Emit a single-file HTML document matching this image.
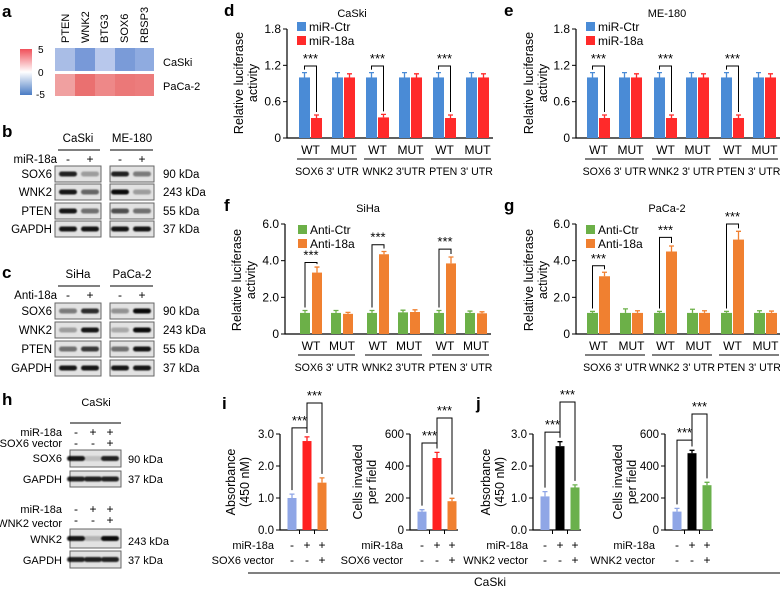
<!DOCTYPE html>
<html><head><meta charset="utf-8"><style>
html,body{margin:0;padding:0;background:#fff}
svg{display:block;font-family:"Liberation Sans",Arial,sans-serif}
</style></head><body>
<svg id="fig" width="780" height="589" viewBox="0 0 780 589" xmlns="http://www.w3.org/2000/svg">
<defs><filter id="blur" x="-20%" y="-50%" width="140%" height="200%"><feGaussianBlur stdDeviation="0.9"/></filter>
<linearGradient id="cbar" x1="0" y1="0" x2="0" y2="1"><stop offset="0" stop-color="#f0505a"/><stop offset="0.5" stop-color="#ffffff"/><stop offset="1" stop-color="#4a7cc4"/></linearGradient></defs>
<g font-size="11">
<text x="2" y="17" font-size="17" font-weight="bold">a</text>
<rect x="20" y="49" width="12" height="46" fill="url(#cbar)"/>
<text x="38" y="53" font-size="10">5</text>
<text x="38" y="76" font-size="10">0</text>
<text x="36" y="98" font-size="10">-5</text>
<g>
<rect x="55" y="48" width="20" height="23" fill="#a9bde6"/><rect x="75" y="48" width="20" height="23" fill="#7899d8"/><rect x="95" y="48" width="20" height="23" fill="#b8c8ec"/><rect x="115" y="48" width="20" height="23" fill="#7a9bd8"/><rect x="135" y="48" width="19" height="23" fill="#8fabe0"/>
<rect x="55" y="74" width="20" height="22" fill="#f0a0a0"/><rect x="75" y="74" width="20" height="22" fill="#ea7070"/><rect x="95" y="74" width="20" height="22" fill="#ee8888"/><rect x="115" y="74" width="20" height="22" fill="#eb7878"/><rect x="135" y="74" width="19" height="22" fill="#ec7c7c"/>
</g>
<text transform="translate(69,43) rotate(-90)">PTEN</text>
<text transform="translate(89,43) rotate(-90)">WNK2</text>
<text transform="translate(108,43) rotate(-90)">BTG3</text>
<text transform="translate(128,43) rotate(-90)">SOX6</text>
<text transform="translate(148,43) rotate(-90)">RBSP3</text>
<text x="163" y="66">CaSki</text>
<text x="163" y="90">PaCa-2</text>
</g>
<g id="blots" font-size="11"></g>
<g id="charts" font-size="11"></g>
</svg>
<script>
// ---------- luciferase data ----------
const lucGroups = ["SOX6 3' UTR", "WNK2 3'UTR", "PTEN 3' UTR"];
const lucGroupsE = ["SOX6 3' UTR", "WNK2 3' UTR", "PTEN 3' UTR"];
const lucSub = ["WT", "MUT"];
const dTicks = ["0", "0.6", "1.2", "1.8"];
const fTicks = ["0", "2.0", "4.0", "6.0"];
const dCtr = [1.0, 1.0, 1.0, 1.0, 1.0, 1.0];
const dCtrErr = [0.08, 0.08, 0.08, 0.08, 0.08, 0.08];
const dMir = [0.33, 1.0, 0.34, 1.0, 0.33, 1.0];
const dMirErr = [0.05, 0.06, 0.05, 0.06, 0.05, 0.06];
const dBracket = [1.19, 1.19, 1.19];
const eCtr = [1.0, 1.0, 1.0, 1.0, 1.0, 1.0];
const eCtrErr = [0.08, 0.08, 0.08, 0.08, 0.08, 0.08];
const eMir = [0.33, 1.0, 0.33, 1.0, 0.33, 1.0];
const eMirErr = [0.05, 0.06, 0.05, 0.06, 0.05, 0.06];
const eBracket = [1.19, 1.19, 1.19];
const fCtr = [1.15, 1.15, 1.15, 1.18, 1.15, 1.15];
const fCtrErr = [0.13, 0.13, 0.13, 0.12, 0.13, 0.1];
const fAnti = [3.35, 1.1, 4.35, 1.2, 3.85, 1.13];
const fAntiErr = [0.3, 0.08, 0.15, 0.12, 0.35, 0.08];
const fBracket = [3.9, 4.87, 4.63];
const gCtr = [1.15, 1.15, 1.15, 1.15, 1.15, 1.15];
const gCtrErr = [0.08, 0.22, 0.08, 0.2, 0.08, 0.12];
const gAnti = [3.15, 1.15, 4.5, 1.15, 5.15, 1.15];
const gAntiErr = [0.22, 0.12, 0.3, 0.12, 0.45, 0.1];
const gBracket = [3.72, 5.27, 6.0];
// ---------- rescue data ----------
const absTicks = ["0.0", "1.0", "2.0", "3.0"];
const cellTicks = ["0", "200", "400", "600"];
const row1Signs = ["-", "+", "+"];
const row2Signs = ["-", "-", "+"];
const i1Vals = [1.0, 2.78, 1.48];
const i1Err = [0.12, 0.13, 0.15];
const i1Br = [3.19, 3.97];
const i2Vals = [115, 450, 180];
const i2Err = [12, 35, 18];
const i2Br = [544, 700];
const j1Vals = [1.05, 2.62, 1.33];
const j1Err = [0.15, 0.14, 0.08];
const j1Br = [3.06, 4.0];
const j2Vals = [115, 480, 280];
const j2Err = [20, 18, 18];
const j2Br = [562, 725];
// ---------- blot band intensities ----------
const bBands = [[0.85,0.3,0.85,0.45],[0.9,0.55,0.95,0.3],[0.9,0.5,0.65,0.5],[0.9,0.9,0.9,0.9]];
const cBands = [[0.45,0.8,0.35,0.95],[0.3,0.9,0.25,0.95],[0.5,0.75,0.5,0.9],[0.9,0.9,0.9,0.9]];
const hBands = [[0.9,0.15,0.85],[0.85,0.85,0.85],[0.9,0.2,0.95],[0.85,0.85,0.85]];

const NS = "http://www.w3.org/2000/svg";
const charts = document.getElementById('charts');
const blots = document.getElementById('blots');
function mk(tag, attrs, parent) {
  const el = document.createElementNS(NS, tag);
  for (const k in attrs) el.setAttribute(k, attrs[k]);
  parent.appendChild(el);
  return el;
}
function tx(s, x, y, anchor, parent, size) {
  const t = mk('text', {x: x, y: y, 'text-anchor': anchor || 'start'}, parent);
  if (size) t.setAttribute('font-size', size);
  t.textContent = s;
  return t;
}

function lucChart(c) {
  const g = mk('g', {}, charts);
  
  
  const ys = v => c.y0 - v / c.ymax * (c.y0 - c.yTop);
  const bx = (i, s) => c.ax + c.off + Math.floor(i / 2) * c.gap + (i % 2) * c.mutOff + s * c.pairOff;
  const letter = tx(c.letter, c.lx, c.ly, 'start', g, 17);
  letter.setAttribute('font-weight', 'bold');
  
  
  const title = tx(c.title, c.titleX, c.yTop - 12, 'middle', g, 11);
  
  
  const lastX = bx(5, 1) + c.bw + 4;
  mk('path', {d: `M${c.ax},${c.yTop} V${c.y0} H${lastX}`, stroke: '#000', fill: 'none', 'stroke-width': 1.2}, g);
  c.ticks.forEach((t, k) => {
    const v = c.ymax * k / (c.ticks.length - 1);
    mk('line', {x1: c.ax - 4, x2: c.ax, y1: ys(v), y2: ys(v), stroke: '#000'}, g);
    const tl = tx(t, c.ax - 6, ys(v) + 4, 'end', g, 12);
    
    
  });
  const yl = mk('text', {transform: `translate(${c.ylX},${c.ylCY}) rotate(-90)`, 'text-anchor': 'middle', 'font-size': 12.5}, g);
  yl.textContent = 'Relative luciferase';
  
  
  const yl2 = mk('text', {transform: `translate(${c.ylX + 14},${c.ylCY}) rotate(-90)`, 'text-anchor': 'middle', 'font-size': 12.5}, g);
  yl2.textContent = 'activity';
  
  
  [c.s1, c.s2].forEach((ser, s) => {
    const errs = s ? c.e2 : c.e1;
    ser.forEach((v, i) => {
      const x = bx(i, s);
      const col = s ? c.c2 : c.c1;
      const r = mk('rect', {x: x, y: ys(v), width: c.bw, height: c.y0 - ys(v), fill: col}, g);
      
      
      const cx = x + c.bw / 2;
      mk('path', {d: `M${cx},${ys(v)} V${ys(v + errs[i])} M${cx - 2.5},${ys(v + errs[i])} H${cx + 2.5}`, stroke: col, 'stroke-width': 1.3, fill: 'none'}, g);
    });
  });
  for (let i = 0; i < 6; i++) {
    const cx = (bx(i, 0) + bx(i, 1) + c.bw) / 2;
    const l = tx(lucSub[i % 2], cx, c.y0 + 16, 'middle', g, 12);
    
    
  }
  c.groups.forEach((gn, k) => {
    const x1 = bx(2 * k, 0) - 2, x2 = bx(2 * k + 1, 1) + c.bw + 2;
    mk('line', {x1: x1, x2: x2, y1: c.y0 + 21, y2: c.y0 + 21, stroke: '#000', 'stroke-width': 1}, g);
    const gl = tx(gn, (x1 + x2) / 2, c.y0 + 37, 'middle', g, 10.6);
    
    
    const i = 2 * k;
    const lx = bx(i, 0) + c.bw / 2, rx = bx(i, 1) + c.bw / 2;
    const lt = ys(c.s1[i] + c.e1[i]) - 3, rt = ys(c.s2[i] + c.e2[i]) - 3, top = ys(c.br[k]);
    const br = mk('path', {d: `M${lx},${lt} V${top} H${rx} V${rt}`, stroke: '#000', fill: 'none', 'stroke-width': 1}, g);
    
    
    const st = tx('***', (lx + rx) / 2, top - 3, 'middle', g, 13);
    
    
  });
  c.leg.forEach((lab, k) => {
    const ly = c.legY + k * 14;
    const sq = mk('rect', {x: c.legX, y: ly, width: 9, height: 9, fill: k ? c.c2 : c.c1}, g);
    
    
    const lt = tx(lab, c.legX + 12, ly + 9, 'start', g, 12);
    
    
  });
}

lucChart({name:'panel-d-chart', letter:'d', lx:224, ly:16, ax:287, y0:138, yTop:29, ymax:1.8, ticks:dTicks, off:12, gap:67, mutOff:33, pairOff:12, bw:11,
  c1:'#4a8bd6', c2:'#ff2a2a', s1:dCtr, e1:dCtrErr, s2:dMir, e2:dMirErr, br:dBracket, title:'CaSki', titleX:352, leg:['miR-Ctr','miR-18a'], legX:297, legY:22, ylX:243, ylCY:83, groups:lucGroups});
lucChart({name:'panel-e-chart', letter:'e', lx:504, ly:16, ax:576, y0:138, yTop:29, ymax:1.8, ticks:dTicks, off:11, gap:67, mutOff:32, pairOff:12, bw:11,
  c1:'#4a8bd6', c2:'#ff2a2a', s1:eCtr, e1:eCtrErr, s2:eMir, e2:eMirErr, br:eBracket, title:'ME-180', titleX:667, leg:['miR-Ctr','miR-18a'], legX:586, legY:22, ylX:533, ylCY:83, groups:lucGroupsE});
lucChart({name:'panel-f-chart', letter:'f', lx:224, ly:211, ax:285, y0:334, yTop:224, ymax:6, ticks:fTicks, off:15, gap:67, mutOff:31, pairOff:12, bw:10,
  c1:'#6cb048', c2:'#f08030', s1:fCtr, e1:fCtrErr, s2:fAnti, e2:fAntiErr, br:fBracket, title:'SiHa', titleX:368, leg:['Anti-Ctr','Anti-18a'], legX:298, legY:225, ylX:241, ylCY:280, groups:lucGroups});
lucChart({name:'panel-g-chart', letter:'g', lx:504, ly:211, ax:576, y0:334, yTop:224, ymax:6, ticks:fTicks, off:11, gap:67, mutOff:33, pairOff:12, bw:11,
  c1:'#6cb048', c2:'#f08030', s1:gCtr, e1:gCtrErr, s2:gAnti, e2:gAntiErr, br:gBracket, title:'PaCa-2', titleX:667, leg:['Anti-Ctr','Anti-18a'], legX:586, legY:225, ylX:533, ylCY:280, groups:lucGroupsE});

function smallChart(c) {
  const g = mk('g', {}, charts);
  
  
  const y0 = 530, yTop = 434;
  const ys = v => y0 - v / c.ymax * (y0 - yTop);
  const bx = i => c.ax + 12 + i * 15;
  mk('path', {d: `M${c.ax},${yTop} V${y0} H${c.ax + 48}`, stroke: '#000', fill: 'none', 'stroke-width': 1.2}, g);
  [19.5, 34.5].forEach(o => mk('line', {x1: c.ax + o, x2: c.ax + o, y1: y0, y2: y0 + 4, stroke: '#000'}, g));
  c.ticks.forEach((t, k) => {
    const v = c.ymax * k / (c.ticks.length - 1);
    mk('line', {x1: c.ax - 4, x2: c.ax, y1: ys(v), y2: ys(v), stroke: '#000'}, g);
    const tl = tx(t, c.ax - 6, ys(v) + 4, 'end', g, 11.5);
    
    
  });
  c.ylab.forEach((s, k) => {
    const yl = mk('text', {transform: `translate(${c.ylX[k]},482) rotate(-90)`, 'text-anchor': 'middle', 'font-size': 12.5}, g);
    yl.textContent = s;
    
    
  });
  c.vals.forEach((v, i) => {
    const x = bx(i);
    const r = mk('rect', {x: x - 4.5, y: ys(v), width: 9, height: y0 - ys(v), fill: c.cols[i]}, g);
    
    
    mk('path', {d: `M${x},${ys(v)} V${ys(v + c.err[i])} M${x - 2.5},${ys(v + c.err[i])} H${x + 2.5}`, stroke: c.cols[i], 'stroke-width': 1.3, fill: 'none'}, g);
    const s1 = tx(row1Signs[i], x, 549, 'middle', g, 12);
    
    
    const s2 = tx(row2Signs[i], x, 564, 'middle', g, 12);
    
    
  });
  const r1 = tx('miR-18a', c.labX, 549, 'end', g, 11);
  
  
  const r2 = tx(c.vec, c.labX, 564, 'end', g, 11);
  
  
  c.br.forEach((b, k) => {
    const lx = bx(k), rx = bx(k + 1);
    const top = ys(b);
    const lt = ys(c.vals[k] + c.err[k]) - 4, rt = ys(c.vals[k + 1] + c.err[k + 1]) - 4;
    const p = mk('path', {d: `M${lx},${lt} V${top} H${rx} V${rt}`, stroke: '#000', fill: 'none', 'stroke-width': 1}, g);
    
    
    const st = tx('***', (lx + rx) / 2, top - 3, 'middle', g, 13);
    
    
  });
}
const iCols = ['#8fa6e6', '#ff2020', '#f08030'];
const jCols = ['#8fa6e6', '#000000', '#6ab04c'];
smallChart({name:'panel-i-absorbance', ax:280, ymax:3, ticks:absTicks, vals:i1Vals, err:i1Err, br:i1Br, cols:iCols, ylab:['Absorbance','(450 nM)'], ylX:[235,249], labX:274, vec:'SOX6 vector'});
smallChart({name:'panel-i-invasion', ax:410, ymax:600, ticks:cellTicks, vals:i2Vals, err:i2Err, br:i2Br, cols:iCols, ylab:['Cells invaded','per field'], ylX:[362,376], labX:403, vec:'SOX6 vector'});
smallChart({name:'panel-j-absorbance', ax:533, ymax:3, ticks:absTicks, vals:j1Vals, err:j1Err, br:j1Br, cols:jCols, ylab:['Absorbance','(450 nM)'], ylX:[490,504], labX:528, vec:'WNK2 vector'});
smallChart({name:'panel-j-invasion', ax:665, ymax:600, ticks:cellTicks, vals:j2Vals, err:j2Err, br:j2Br, cols:jCols, ylab:['Cells invaded','per field'], ylX:[622,636], labX:655, vec:'WNK2 vector'});
const li = tx('i', 222, 409, 'start', charts, 17);
li.setAttribute('font-weight', 'bold');


const lj = tx('j', 476, 409, 'start', charts, 17);
lj.setAttribute('font-weight', 'bold');


mk('line', {x1: 248, x2: 780, y1: 573, y2: 573, stroke: '#000', 'stroke-width': 1}, charts);
const ck = tx('CaSki', 490, 586, 'middle', charts, 12);



// ---------- western blots ----------
function blotRow(boxes, lanes, top, h, bands, name) {
  boxes.forEach(b => {
    const r = mk('rect', {x: b[0], y: top, width: b[1] - b[0], height: h, fill: '#e2e2e2', stroke: '#666', 'stroke-width': 1}, blots);
    
    
  });
  lanes.forEach((lx, k) => {
    const bd = mk('rect', {x: lx - 9, y: top + h / 2 - 2.5, width: 18, height: 5, rx: 2.5, fill: '#000', opacity: bands[k], filter: 'url(#blur)'}, blots);
    
    
  });
}
function label(s, x, y, anchor, size, name) {
  const t = tx(s, x, y, anchor, blots, size);
  
  
  return t;
}
const proteins = ['SOX6', 'WNK2', 'PTEN', 'GAPDH'];
const kda = ['90 kDa', '243 kDa', '55 kDa', '37 kDa'];
function blotPanel(letter, ly, cells, top, treat, rows, bands) {
  const l = label(letter, 2, ly, 'start', 17, 'panel-label-' + letter);
  l.setAttribute('font-weight', 'bold');
  label(cells[0], 78, top, 'middle', 11.5, 'cell-line-label');
  label(cells[1], 132, top, 'middle', 11.5, 'cell-line-label');
  mk('line', {x1: 58, x2: 100, y1: top + 8, y2: top + 8, stroke: '#000'}, blots);
  mk('line', {x1: 110, x2: 153, y1: top + 8, y2: top + 8, stroke: '#000'}, blots);
  label(treat, 57, top + 21, 'end', 11.5, 'treatment-label');
  const lanes = [68, 90, 120, 142];
  lanes.forEach((x, k) => label(k % 2 ? '+' : '-', x, top + 21, 'middle', 12, 'lane-sign'));
  rows.forEach((rt, k) => {
    blotRow([[55, 101], [110, 154]], lanes, rt, 16, bands[k], proteins[k].toLowerCase());
    label(proteins[k], 52, rt + 12, 'end', 11.5, 'protein-label');
    label(kda[k], 163, rt + 12, 'start', 11.5, 'kda-label');
  });
}
blotPanel('b', 137, ['CaSki', 'ME-180'], 142, 'miR-18a', [166, 184, 203, 221], bBands);
blotPanel('c', 278, ['SiHa', 'PaCa-2'], 278, 'Anti-18a', [303, 322, 341, 360], cBands);
// panel h
const lh = label('h', 2, 405, 'start', 17, 'panel-label-h');
lh.setAttribute('font-weight', 'bold');
label('CaSki', 96, 406, 'middle', 11, 'cell-line-label');
mk('line', {x1: 70, x2: 121, y1: 423, y2: 423, stroke: '#000'}, blots);
const hl = [76, 93, 110];
function hSigns(y1) {
  label('miR-18a', 62, y1, 'end', 11, 'treatment-label');
  hl.forEach((x, k) => label(row1Signs[k], x, y1, 'middle', 12, 'lane-sign'));
  hl.forEach((x, k) => label(row2Signs[k], x, y1 + 11, 'middle', 12, 'lane-sign'));
}
hSigns(436);
label('SOX6 vector', 62, 447, 'end', 11, 'vector-label');
blotRow([[70, 121]], hl, 450, 17, hBands[0], 'sox6');
label('SOX6', 62, 462, 'end', 11, 'protein-label');
label('90 kDa', 128, 463, 'start', 11, 'kda-label');
blotRow([[70, 121]], hl, 471, 16, hBands[1], 'gapdh');
label('GAPDH', 62, 483, 'end', 11, 'protein-label');
label('37 kDa', 128, 483, 'start', 11, 'kda-label');
hSigns(513);
label('WNK2 vector', 62, 527, 'end', 11, 'vector-label');
blotRow([[70, 121]], hl, 529, 19, hBands[2], 'wnk2');
label('WNK2', 62, 543, 'end', 11, 'protein-label');
label('243 kDa', 128, 545, 'start', 11, 'kda-label');
blotRow([[70, 121]], hl, 551, 17, hBands[3], 'gapdh');
label('GAPDH', 62, 564, 'end', 11, 'protein-label');
label('37 kDa', 128, 564, 'start', 11, 'kda-label');
</script>
</body></html>
